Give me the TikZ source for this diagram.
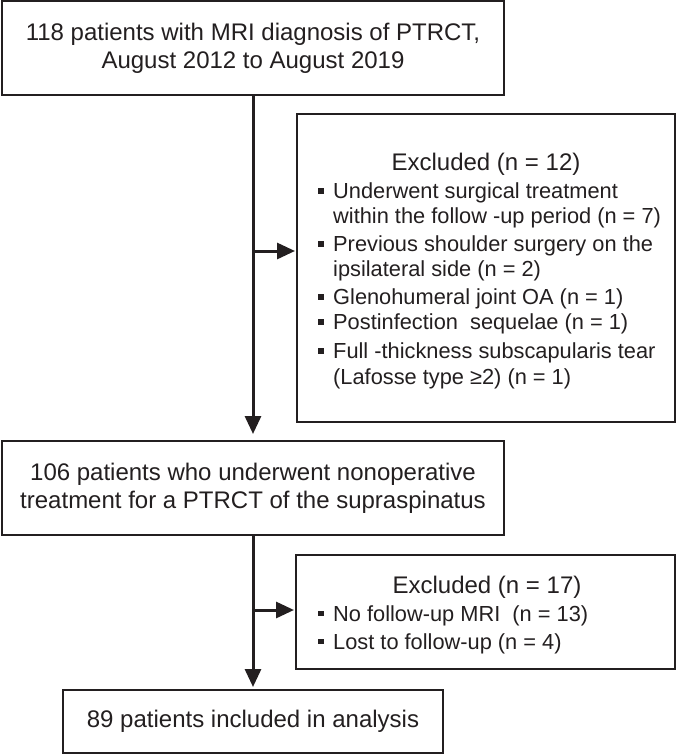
\documentclass[tikz,border=0pt]{standalone}
\usepackage{fontspec}
\setmainfont{Liberation Sans}
\usetikzlibrary{arrows.meta}
\definecolor{ink}{RGB}{35,31,32}
\newcommand{\bul}{\rule[5pt]{5.5pt}{5.5pt}}
\begin{document}
\begin{tikzpicture}[x=1pt,y=-1pt,
  box/.style={draw=ink,line width=2pt,rectangle,inner sep=0pt,align=center,
    font=\fontsize{24}{28}\selectfont,text=ink},
  hdr/.style={inner sep=0pt,font=\fontsize{24}{28}\selectfont,text=ink,anchor=base},
  items/.style={inner sep=0pt,font=\fontsize{21.8}{25}\selectfont,text=ink,anchor=base west},
  flow/.style={draw=ink,line width=3pt,-{Triangle[length=18pt,width=16pt]}},
  link/.style={draw=ink,line width=3pt}]
\useasboundingbox (0,0) rectangle (676,755);
\fill[white] (0,0) rectangle (676,755);

\node[box,minimum width=502pt,minimum height=94pt] (top) at (253,48)
  {118 patients with MRI diagnosis of PTRCT,\\August 2012 to August 2019};
\node[box,minimum width=502pt,minimum height=94pt] (mid) at (253,488)
  {106 patients who underwent nonoperative\\treatment for a PTRCT of the supraspinatus};
\node[box,minimum width=380pt,minimum height=63pt] (fin) at (253,721.5)
  {89 patients included in analysis};

\node[box,minimum width=378pt,minimum height=308pt] (ex1) at (486,268) {};
\node[hdr] (ex1h) at (486,170.5) {Excluded (n = 12)};
\node[items] (ex1i) at (318,198.8) {\begin{tabular}[t]{@{}l@{\hspace{9.5pt}}l@{}}
\bul & Underwent surgical treatment\\
     & within the follow -up period (n = 7)\\[3pt]
\bul & Previous shoulder surgery on the\\
     & ipsilateral side (n = 2)\\[3pt]
\bul & Glenohumeral joint OA (n = 1)\\
\bul & Postinfection~ sequelae (n = 1)\\[4pt]
\bul & Full -thickness subscapularis tear\\[1pt]
     & (Lafosse type ≥2) (n = 1)
\end{tabular}};

\node[box,minimum width=379pt,minimum height=114pt] (ex2) at (485.5,612) {};
\node[hdr] (ex2h) at (487,593.6) {Excluded (n = 17)};
\node[items] (ex2i) at (318,621) {\begin{tabular}[t]{@{}l@{\hspace{9.5pt}}l@{}}
\bul & No follow-up MRI~ (n = 13)\\[3pt]
\bul & Lost to follow-up (n = 4)
\end{tabular}};

\coordinate (b1) at (253,251);
\coordinate (b2) at (253,610);
\draw[flow,shorten >=6pt] (top.south) -- (mid.north);
\draw[flow,shorten >=1pt] (b1) -- (b1 -| ex1.west);
\draw[flow,shorten >=2pt] (mid.south) -- (fin.north);
\draw[flow,shorten >=1pt] (b2) -- (b2 -| ex2.west);
\end{tikzpicture}
\end{document}
